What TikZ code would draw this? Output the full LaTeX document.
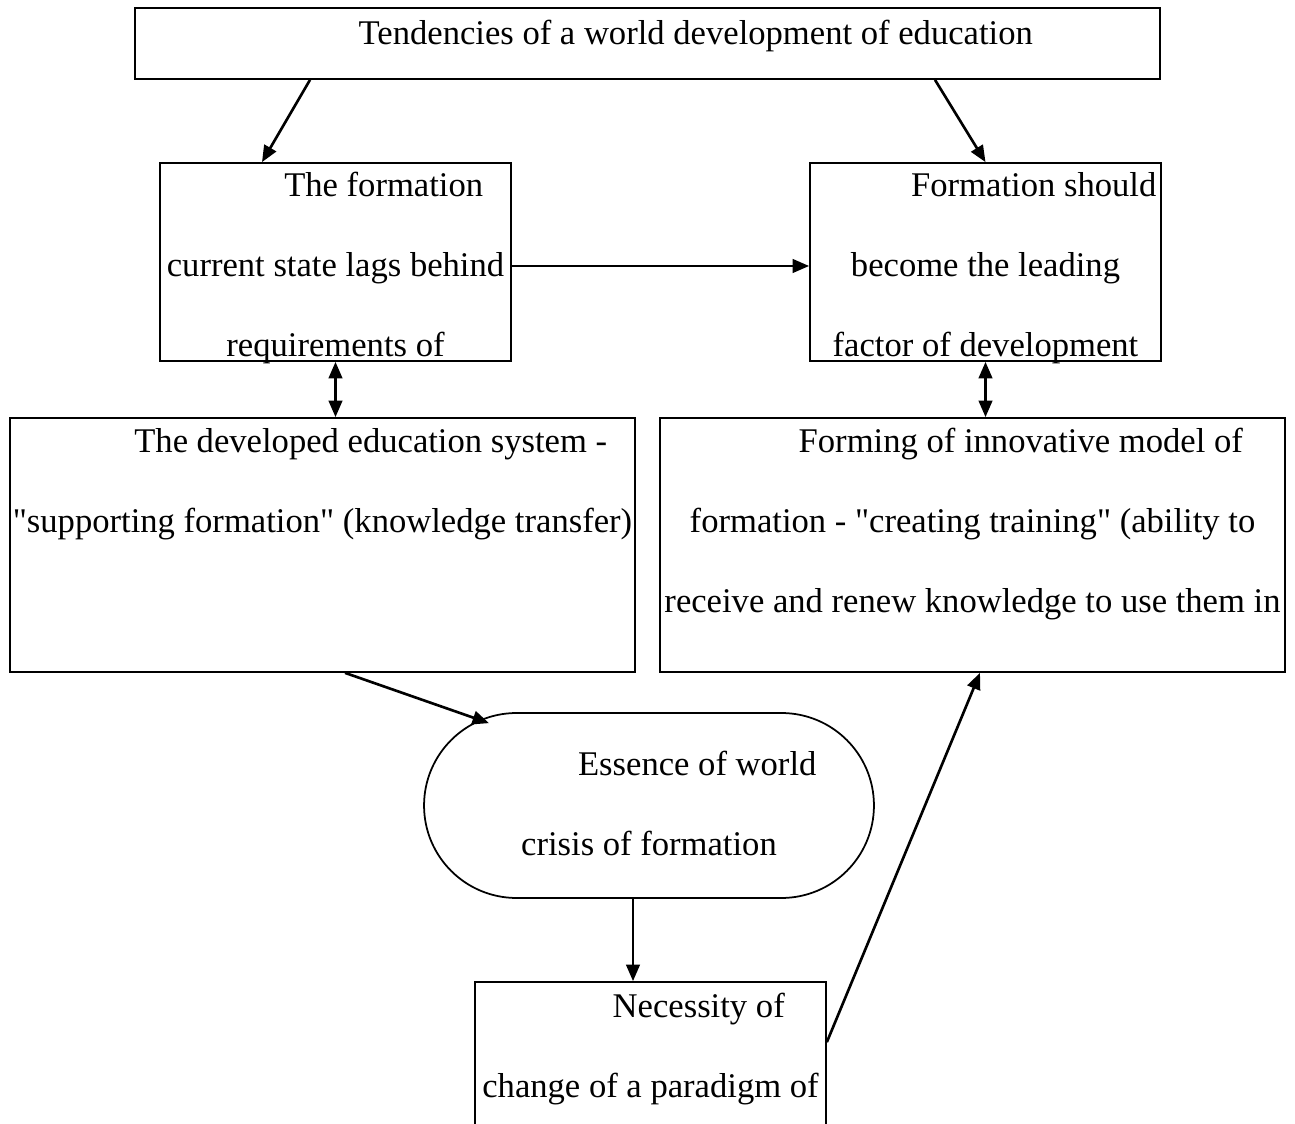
\documentclass[tikz,border=0pt]{standalone}
\usepackage{fontspec}
\setmainfont{Liberation Serif}[Ligatures=TeXOff]
\usetikzlibrary{arrows.meta, positioning, calc}

\newcommand{\firstind}{\hspace*{1.93cm}}

\begin{document}
\begin{tikzpicture}[
    x=0.02cm, y=-0.02cm,
    box/.style={rectangle, draw=black, line width=1pt, inner sep=0pt},
    pill/.style={rectangle, draw=black, line width=1pt, inner sep=0pt, rounded corners=1.85cm},
    txt/.style={align=center, inner sep=0pt, font=\fontsize{19.7pt}{45.5pt}\selectfont},
    arrow/.style={line width=1.5pt, -{Triangle[length=0.33cm, width=0.27cm]}},
    darrow/.style={line width=1.5pt, {Triangle[length=0.33cm, width=0.27cm]}-{Triangle[length=0.33cm, width=0.27cm]}}
]
\useasboundingbox (0,0) rectangle (1295,1124);

% Top tendencies
\node[box, minimum width=20.5cm, minimum height=1.42cm] (title) at (647.5,43.5) {};
\node[txt, below=0.26cm of title.north] (title_t) {\firstind Tendencies of a world development of education};

% Current state / leading factor
\node[box, minimum width=7.02cm, minimum height=3.96cm] (form) at (335.5,262) {};
\node[txt, below=0.2cm of form.north] (form_t) {\firstind The formation\\current state lags behind\\requirements of};

\node[box, minimum width=7.02cm, minimum height=3.96cm] (lead) at (985.5,262) {};
\node[txt, below=0.2cm of lead.north] (lead_t) {\firstind Formation should\\become the leading\\factor of development};

% Two education models
\node[box, minimum width=12.5cm, minimum height=5.08cm] (supp) at (322.5,545) {};
\node[txt, below=0.22cm of supp.north] (supp_t) {\firstind The developed education system -\\"supporting formation" (knowledge transfer)};

\node[box, minimum width=12.5cm, minimum height=5.08cm] (innov) at (972.5,545) {};
\node[txt, below=0.22cm of innov.north] (innov_t) {\firstind Forming of innovative model of\\formation - "creating training" (ability to\\receive and renew knowledge to use them in};

% Crisis
\node[pill, minimum width=9cm, minimum height=3.7cm] (crisis) at (649,805.5) {};
\node[txt, below=0.78cm of crisis.north] (crisis_t) {\firstind Essence of world\\crisis of formation};

% Paradigm change
\node[box, minimum width=7.02cm, minimum height=4.8cm] (nec) at (650.5,1102) {};
\node[txt, below=0.24cm of nec.north] (nec_t) {\firstind Necessity of\\change of a paradigm of};

% Arrows
\draw[arrow] ($(title.south)+(-337.5,0)$) -- ($(form.north)+(-73.5,0)$);
\draw[arrow] ($(title.south)+(287.5,0)$) -- (lead.north);
\draw[arrow] ($(form.east)+(0,4)$) -- ($(lead.west)+(0,4)$);
\draw[darrow] (form.south) -- (form.south |- supp.north);
\draw[darrow] (lead.south) -- (lead.south |- innov.north);
\draw[arrow] ($(supp.south)+(22.5,0)$) -- ($(crisis.north)+(-160,11)$);
\draw[arrow] ($(crisis.south)+(-16,0)$) -- ($(nec.north)+(-17.5,0)$);
\draw[arrow] ($(nec.north east)+(0,61)$) -- ($(innov.south)+(7.5,0)$);

\end{tikzpicture}
\end{document}
